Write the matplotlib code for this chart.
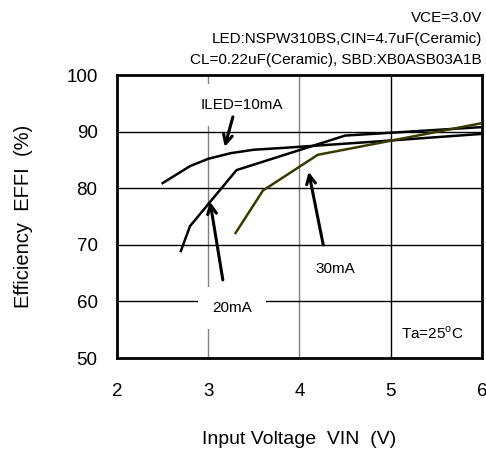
import matplotlib
matplotlib.use("Agg")
import matplotlib.pyplot as plt

plt.rcParams["font.family"] = ["Liberation Sans", "DejaVu Sans"]

# Efficiency vs input voltage
vin_10 = [2.50, 2.80, 3.00, 3.25, 3.50, 3.80, 4.80, 6.00]
eff_10 = [80.9, 83.9, 85.2, 86.2, 86.8, 87.1, 88.2, 89.6]

vin_20 = [2.70, 2.80, 3.31, 4.50, 6.00]
eff_20 = [68.9, 73.3, 83.2, 89.3, 90.8]

vin_30 = [3.30, 3.60, 4.20, 6.00]
eff_30 = [72.1, 79.6, 85.9, 91.5]

x_ticks = [2, 3, 4, 5, 6]
y_ticks = [50, 60, 70, 80, 90, 100]

notes = ["VCE=3.0V",
         "LED:NSPW310BS,CIN=4.7uF(Ceramic)",
         "CL=0.22uF(Ceramic), SBD:XB0ASB03A1B"]

fig = plt.figure(figsize=(4.86, 4.53), dpi=100)
ax = fig.add_axes([0.2407, 0.2097, 0.7511, 0.6247])

ax.set_xlim(2, 6)
ax.set_ylim(50, 100)
ax.set_xticks(x_ticks)
ax.set_yticks(y_ticks)
ax.tick_params(length=0, labelsize=13.5)
ax.tick_params(axis="x", pad=18)
ax.tick_params(axis="y", pad=14)

# grid: verticals at 3 and 4 are grey, the rest black
for v in x_ticks[1:-1]:
    ax.axvline(v, color="#808080" if v < 5 else "black", lw=1.0, zorder=1)
for v in y_ticks[1:-1]:
    ax.axhline(v, color="black", lw=1.0, zorder=1)

for s in ax.spines.values():
    s.set_linewidth(2.0)

ax.plot(vin_10, eff_10, color="black", lw=1.8, zorder=3)
ax.plot(vin_20, eff_20, color="black", lw=1.8, zorder=3)
ax.plot(vin_30, eff_30, color="#3a3a00", lw=1.8, zorder=3)

box = dict(boxstyle="square,pad=0.9", fc="white", ec="none")
arrow = dict(arrowstyle="->", lw=2.2, color="black", mutation_scale=16,
             shrinkA=0, shrinkB=0)

ax.text(3.37, 94.7, "ILED=10mA", fontsize=11, ha="center", va="center",
        bbox=box, zorder=2)
ax.annotate("", xy=(3.18, 87.3), xytext=(3.27, 92.6), arrowprops=arrow, zorder=4)

ax.text(3.26, 58.8, "20mA", fontsize=11, ha="center", va="center",
        bbox=box, zorder=2)
ax.annotate("", xy=(3.02, 77.6), xytext=(3.16, 63.8), arrowprops=arrow, zorder=4)

ax.text(4.39, 65.7, "30mA", fontsize=11, ha="center", va="center", zorder=2)
ax.annotate("", xy=(4.10, 82.9), xytext=(4.26, 70.0), arrowprops=arrow, zorder=4)

ax.text(5.46, 54.4, r"Ta=25$^\mathregular{o}$C", fontsize=11,
        ha="center", va="center", zorder=2)

ax.set_xlabel("Input Voltage  VIN  (V)", fontsize=14, labelpad=22)
ax.set_ylabel("Efficiency  EFFI  (%)", fontsize=14.5, labelpad=24)

for i, t in enumerate(notes):
    fig.text(0.9918, 1 - (18 + 21 * i) / 453, t, fontsize=11,
             ha="right", va="center")

fig.savefig("out.png", dpi=100, facecolor="white")
